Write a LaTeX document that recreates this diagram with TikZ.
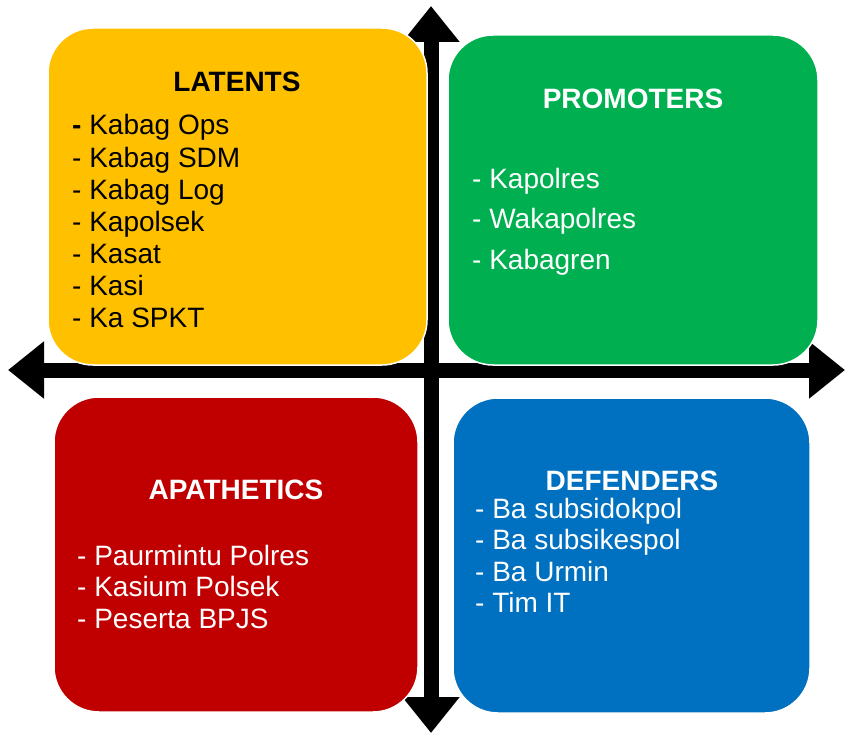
\documentclass[tikz,border=0pt]{standalone}
\usepackage{fontspec}
\setmainfont{Liberation Sans}
\usetikzlibrary{arrows.meta,positioning}
\definecolor{latentcol}{HTML}{FFC000}
\definecolor{promotercol}{HTML}{00B050}
\definecolor{apatheticcol}{HTML}{C00000}
\definecolor{defendercol}{HTML}{0070C0}
\tikzset{
  axis/.style={line width=15pt,{Triangle[length=36pt,width=55pt]}-{Triangle[length=36pt,width=55pt]}},
  quad/.style={draw=white,line width=1.5pt,rounded corners=45pt,inner sep=0pt},
  title/.style={anchor=base,inner sep=0pt,font=\fontsize{28}{32}\selectfont\bfseries},
  item/.style={anchor=base west,inner sep=0pt,font=\fontsize{28}{32}\selectfont}
}
\begin{document}
\begin{tikzpicture}[x=1pt,y=-1pt]
\useasboundingbox (0,0) rectangle (845,733);
\coordinate (top) at (431,6);
\coordinate (bottom) at (431,733);
\coordinate (left) at (8,370);
\coordinate (right) at (845,370);
\draw[axis] (bottom) -- (top);
\draw[axis] (left) -- (right);
% the four quadrants
\node[quad,fill=latentcol,minimum width=379pt,minimum height=337pt] (latents) at (237.5,196.5) {};
\node[quad,fill=promotercol,minimum width=370pt,minimum height=330pt] (promoters) at (633,200) {};
\node[quad,fill=apatheticcol,minimum width=364pt,minimum height=315pt] (apathetics) at (236,554.5) {};
\node[quad,fill=defendercol,minimum width=357pt,minimum height=315pt] (defenders) at (631.5,555.5) {};
\node[title] (latT) at (237,92) {LATENTS};
\node[title,text=white] (proT) at (633,109) {PROMOTERS};
\node[title,text=white] (apaT) at (236,499) {APATHETICS};
\node[title,text=white] (defT) at (632,490) {DEFENDERS};
\foreach \txt [count=\i] in {{\textbf{-} Kabag Ops},- Kabag SDM,- Kabag Log,- Kapolsek,- Kasat,- Kasi,- Ka SPKT}
  \node[item] (lat-\i) at (72,135+32*\i-32) {\txt};
\foreach \txt [count=\i] in {Kapolres,Wakapolres,Kabagren}
  \node[item,text=white] (pro-\i) at (472,188+40.5*\i-40.5) {- \txt};
\foreach \txt [count=\i] in {Paurmintu Polres,Kasium Polsek,Peserta BPJS}
  \node[item,text=white] (apa-\i) at (77,565+31.5*\i-31.5) {- \txt};
\foreach \txt [count=\i] in {Ba subsidokpol,Ba subsikespol,Ba Urmin,Tim IT}
  \node[item,text=white] (def-\i) at (475,518+31.5*\i-31.5) {- \txt};
\end{tikzpicture}
\end{document}
